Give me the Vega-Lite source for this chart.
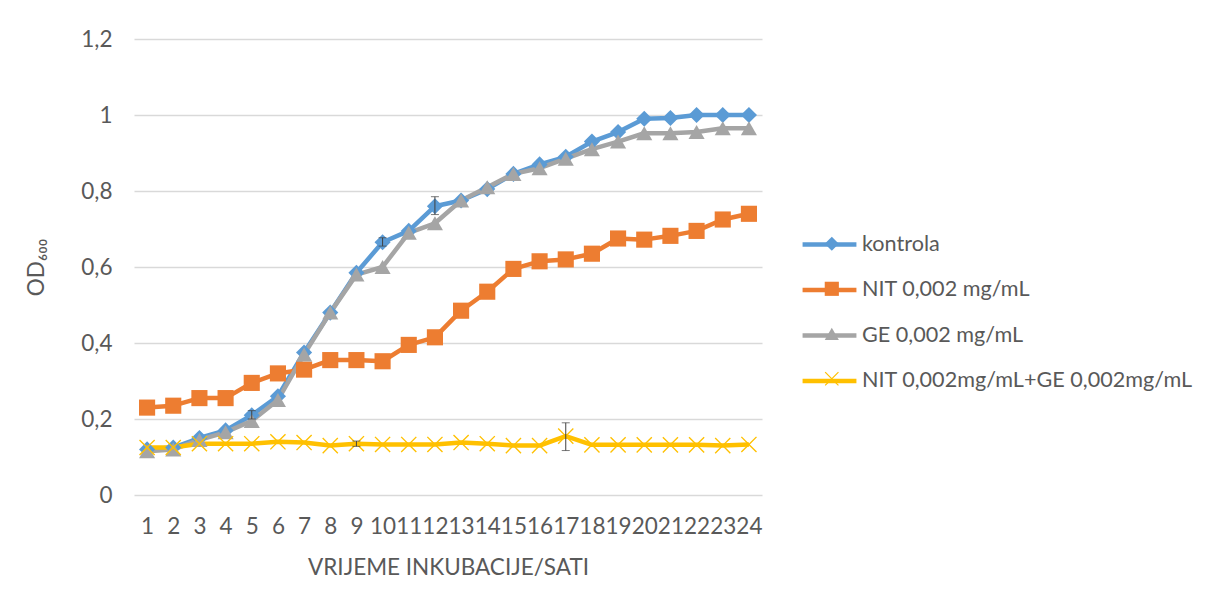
{
  "$schema": "https://vega.github.io/schema/vega-lite/v6.json",
  "autosize": "none",
  "width": 628,
  "height": 456,
  "padding": {"left": 134, "top": 39, "right": 444, "bottom": 113},
  "background": "white",
  "config": {
    "font": "Lato",
    "view": {"stroke": null},
    "axis": {"labelFont": "Lato", "titleFont": "Lato", "labelColor": "#595959", "titleColor": "#595959", "labelFontSize": 22.5, "titleFontSize": 22.5, "titleFontWeight": "normal"},
    "legend": {"labelFont": "Lato", "labelColor": "#595959", "labelFontSize": 21.6, "padding": 0, "labelLimit": 500}
  },
  "datasets": {
    "od": [
      {"hour": 1, "series": "kontrola", "od": 0.12},
      {"hour": 2, "series": "kontrola", "od": 0.125},
      {"hour": 3, "series": "kontrola", "od": 0.15},
      {"hour": 4, "series": "kontrola", "od": 0.17},
      {"hour": 5, "series": "kontrola", "od": 0.21},
      {"hour": 6, "series": "kontrola", "od": 0.26},
      {"hour": 7, "series": "kontrola", "od": 0.375},
      {"hour": 8, "series": "kontrola", "od": 0.48},
      {"hour": 9, "series": "kontrola", "od": 0.585},
      {"hour": 10, "series": "kontrola", "od": 0.665},
      {"hour": 11, "series": "kontrola", "od": 0.695},
      {"hour": 12, "series": "kontrola", "od": 0.76},
      {"hour": 13, "series": "kontrola", "od": 0.775},
      {"hour": 14, "series": "kontrola", "od": 0.805},
      {"hour": 15, "series": "kontrola", "od": 0.845},
      {"hour": 16, "series": "kontrola", "od": 0.87},
      {"hour": 17, "series": "kontrola", "od": 0.89},
      {"hour": 18, "series": "kontrola", "od": 0.93},
      {"hour": 19, "series": "kontrola", "od": 0.955},
      {"hour": 20, "series": "kontrola", "od": 0.99},
      {"hour": 21, "series": "kontrola", "od": 0.992},
      {"hour": 22, "series": "kontrola", "od": 1.0},
      {"hour": 23, "series": "kontrola", "od": 1.0},
      {"hour": 24, "series": "kontrola", "od": 1.0},
      {"hour": 1, "series": "NIT 0,002 mg/mL", "od": 0.23},
      {"hour": 2, "series": "NIT 0,002 mg/mL", "od": 0.235},
      {"hour": 3, "series": "NIT 0,002 mg/mL", "od": 0.255},
      {"hour": 4, "series": "NIT 0,002 mg/mL", "od": 0.255},
      {"hour": 5, "series": "NIT 0,002 mg/mL", "od": 0.295},
      {"hour": 6, "series": "NIT 0,002 mg/mL", "od": 0.32},
      {"hour": 7, "series": "NIT 0,002 mg/mL", "od": 0.33},
      {"hour": 8, "series": "NIT 0,002 mg/mL", "od": 0.355},
      {"hour": 9, "series": "NIT 0,002 mg/mL", "od": 0.355},
      {"hour": 10, "series": "NIT 0,002 mg/mL", "od": 0.352},
      {"hour": 11, "series": "NIT 0,002 mg/mL", "od": 0.395},
      {"hour": 12, "series": "NIT 0,002 mg/mL", "od": 0.415},
      {"hour": 13, "series": "NIT 0,002 mg/mL", "od": 0.485},
      {"hour": 14, "series": "NIT 0,002 mg/mL", "od": 0.535},
      {"hour": 15, "series": "NIT 0,002 mg/mL", "od": 0.595},
      {"hour": 16, "series": "NIT 0,002 mg/mL", "od": 0.615},
      {"hour": 17, "series": "NIT 0,002 mg/mL", "od": 0.62},
      {"hour": 18, "series": "NIT 0,002 mg/mL", "od": 0.635},
      {"hour": 19, "series": "NIT 0,002 mg/mL", "od": 0.675},
      {"hour": 20, "series": "NIT 0,002 mg/mL", "od": 0.672},
      {"hour": 21, "series": "NIT 0,002 mg/mL", "od": 0.682},
      {"hour": 22, "series": "NIT 0,002 mg/mL", "od": 0.695},
      {"hour": 23, "series": "NIT 0,002 mg/mL", "od": 0.725},
      {"hour": 24, "series": "NIT 0,002 mg/mL", "od": 0.74},
      {"hour": 1, "series": "GE 0,002 mg/mL", "od": 0.115},
      {"hour": 2, "series": "GE 0,002 mg/mL", "od": 0.12},
      {"hour": 3, "series": "GE 0,002 mg/mL", "od": 0.145},
      {"hour": 4, "series": "GE 0,002 mg/mL", "od": 0.165},
      {"hour": 5, "series": "GE 0,002 mg/mL", "od": 0.195},
      {"hour": 6, "series": "GE 0,002 mg/mL", "od": 0.25},
      {"hour": 7, "series": "GE 0,002 mg/mL", "od": 0.37},
      {"hour": 8, "series": "GE 0,002 mg/mL", "od": 0.48},
      {"hour": 9, "series": "GE 0,002 mg/mL", "od": 0.58},
      {"hour": 10, "series": "GE 0,002 mg/mL", "od": 0.6},
      {"hour": 11, "series": "GE 0,002 mg/mL", "od": 0.69},
      {"hour": 12, "series": "GE 0,002 mg/mL", "od": 0.715},
      {"hour": 13, "series": "GE 0,002 mg/mL", "od": 0.775},
      {"hour": 14, "series": "GE 0,002 mg/mL", "od": 0.81},
      {"hour": 15, "series": "GE 0,002 mg/mL", "od": 0.845},
      {"hour": 16, "series": "GE 0,002 mg/mL", "od": 0.86},
      {"hour": 17, "series": "GE 0,002 mg/mL", "od": 0.885},
      {"hour": 18, "series": "GE 0,002 mg/mL", "od": 0.91},
      {"hour": 19, "series": "GE 0,002 mg/mL", "od": 0.93},
      {"hour": 20, "series": "GE 0,002 mg/mL", "od": 0.952},
      {"hour": 21, "series": "GE 0,002 mg/mL", "od": 0.952},
      {"hour": 22, "series": "GE 0,002 mg/mL", "od": 0.955},
      {"hour": 23, "series": "GE 0,002 mg/mL", "od": 0.965},
      {"hour": 24, "series": "GE 0,002 mg/mL", "od": 0.965},
      {"hour": 1, "series": "NIT 0,002mg/mL+GE 0,002mg/mL", "od": 0.125},
      {"hour": 2, "series": "NIT 0,002mg/mL+GE 0,002mg/mL", "od": 0.125},
      {"hour": 3, "series": "NIT 0,002mg/mL+GE 0,002mg/mL", "od": 0.135},
      {"hour": 4, "series": "NIT 0,002mg/mL+GE 0,002mg/mL", "od": 0.135},
      {"hour": 5, "series": "NIT 0,002mg/mL+GE 0,002mg/mL", "od": 0.135},
      {"hour": 6, "series": "NIT 0,002mg/mL+GE 0,002mg/mL", "od": 0.14},
      {"hour": 7, "series": "NIT 0,002mg/mL+GE 0,002mg/mL", "od": 0.138},
      {"hour": 8, "series": "NIT 0,002mg/mL+GE 0,002mg/mL", "od": 0.13},
      {"hour": 9, "series": "NIT 0,002mg/mL+GE 0,002mg/mL", "od": 0.135},
      {"hour": 10, "series": "NIT 0,002mg/mL+GE 0,002mg/mL", "od": 0.133},
      {"hour": 11, "series": "NIT 0,002mg/mL+GE 0,002mg/mL", "od": 0.133},
      {"hour": 12, "series": "NIT 0,002mg/mL+GE 0,002mg/mL", "od": 0.133},
      {"hour": 13, "series": "NIT 0,002mg/mL+GE 0,002mg/mL", "od": 0.138},
      {"hour": 14, "series": "NIT 0,002mg/mL+GE 0,002mg/mL", "od": 0.135},
      {"hour": 15, "series": "NIT 0,002mg/mL+GE 0,002mg/mL", "od": 0.13},
      {"hour": 16, "series": "NIT 0,002mg/mL+GE 0,002mg/mL", "od": 0.13},
      {"hour": 17, "series": "NIT 0,002mg/mL+GE 0,002mg/mL", "od": 0.155},
      {"hour": 18, "series": "NIT 0,002mg/mL+GE 0,002mg/mL", "od": 0.132},
      {"hour": 19, "series": "NIT 0,002mg/mL+GE 0,002mg/mL", "od": 0.132},
      {"hour": 20, "series": "NIT 0,002mg/mL+GE 0,002mg/mL", "od": 0.132},
      {"hour": 21, "series": "NIT 0,002mg/mL+GE 0,002mg/mL", "od": 0.132},
      {"hour": 22, "series": "NIT 0,002mg/mL+GE 0,002mg/mL", "od": 0.132},
      {"hour": 23, "series": "NIT 0,002mg/mL+GE 0,002mg/mL", "od": 0.13},
      {"hour": 24, "series": "NIT 0,002mg/mL+GE 0,002mg/mL", "od": 0.133}
    ],
    "err": [
      {"hour": 5, "series": "kontrola", "lo": 0.2, "hi": 0.222},
      {"hour": 10, "series": "kontrola", "lo": 0.655, "hi": 0.677},
      {"hour": 12, "series": "kontrola", "lo": 0.738, "hi": 0.785},
      {"hour": 9, "series": "NIT 0,002mg/mL+GE 0,002mg/mL", "lo": 0.128, "hi": 0.142},
      {"hour": 17, "series": "NIT 0,002mg/mL+GE 0,002mg/mL", "lo": 0.117, "hi": 0.19}
    ]
  },
  "layer": [
    {
      "data": {"name": "od"},
      "mark": {"type": "line", "strokeWidth": 4.5, "strokeJoin": "round"},
      "encoding": {
        "x": {"field": "hour", "type": "ordinal", "scale": {"type": "point", "padding": 0.5},
          "axis": {"title": "VRIJEME INKUBACIJE/SATI", "labelAngle": 0, "labelOverlap": false, "ticks": false, "domain": false, "labelPadding": 20, "titlePadding": 19}},
        "y": {"field": "od", "type": "quantitative", "scale": {"domain": [0, 1.2]}, "title": "OD₆₀₀",
          "axis": {"values": [0, 0.2, 0.4, 0.6, 0.8, 1, 1.2], "labelExpr": "replace(format(datum.value, '~g'), '.', ',')", "ticks": false, "domain": false, "gridColor": "#d9d9d9", "gridWidth": 1.3, "labelPadding": 22, "titlePadding": 32}},
        "color": {"field": "series", "type": "nominal",
          "scale": {"domain": ["kontrola", "NIT 0,002 mg/mL", "GE 0,002 mg/mL", "NIT 0,002mg/mL+GE 0,002mg/mL"], "range": ["#5B9BD5", "#ED7D31", "#A5A5A5", "#FFC000"]},
          "legend": {"title": null, "orient": "none", "legendX": 666, "legendY": 176, "symbolType": "stroke", "symbolSize": 2900, "symbolStrokeWidth": 4.5, "rowPadding": 4.5, "labelOffset": 3}},
        "order": {"field": "hour", "type": "quantitative"}
      }
    },
    {
      "data": {"name": "od"},
      "transform": [{"calculate": "'m' + datum.series", "as": "marker"}],
      "mark": {"type": "point", "filled": true, "opacity": 1, "size": 260},
      "encoding": {
        "x": {"field": "hour", "type": "ordinal"},
        "y": {"field": "od", "type": "quantitative", "title": "OD₆₀₀"},
        "fill": {"field": "marker", "type": "nominal",
          "scale": {"domain": ["mkontrola", "mNIT 0,002 mg/mL", "mGE 0,002 mg/mL", "mNIT 0,002mg/mL+GE 0,002mg/mL"], "range": ["#5B9BD5", "#ED7D31", "#A5A5A5", "#FFC000"]},
          "legend": {"title": null, "orient": "none", "legendX": 687, "legendY": 194, "symbolSize": 200, "rowPadding": 22, "labelExpr": "''", "symbolStrokeWidth": 0, "symbolOpacity": 1}},
        "shape": {"field": "marker", "type": "nominal",
          "scale": {"domain": ["mkontrola", "mNIT 0,002 mg/mL", "mGE 0,002 mg/mL", "mNIT 0,002mg/mL+GE 0,002mg/mL"],
            "range": ["diamond", "square", "triangle-up", "M-1,-0.88L-0.88,-1L0,-0.12L0.88,-1L1,-0.88L0.12,0L1,0.88L0.88,1L0,0.12L-0.88,1L-1,0.88L-0.12,0Z"]},
          "legend": {"title": null, "orient": "none", "legendX": 687, "legendY": 194, "symbolSize": 200, "rowPadding": 22, "labelExpr": "''", "symbolStrokeWidth": 0, "symbolOpacity": 1}}
      }
    },
    {
      "data": {"name": "err"},
      "mark": {"type": "errorbar", "ticks": {"size": 8, "color": "#404040"}, "rule": {"color": "#404040"}, "thickness": 1},
      "encoding": {
        "x": {"field": "hour", "type": "ordinal"},
        "y": {"field": "lo", "type": "quantitative", "title": "OD₆₀₀"},
        "y2": {"field": "hi"}
      }
    }
  ]
}
